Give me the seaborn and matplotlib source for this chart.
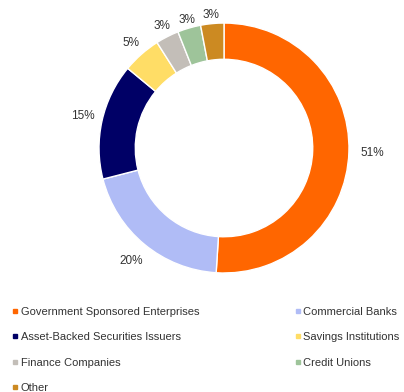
import matplotlib
matplotlib.use("Agg")
import matplotlib.pyplot as plt
from matplotlib.lines import Line2D
import numpy as np
import seaborn as sns

sns.set_theme(style="white")
plt.rcParams["font.family"] = ["Liberation Sans", "DejaVu Sans"]

# Holders of outstanding consumer/mortgage debt, share of total
holders = [
    "Government Sponsored Enterprises",
    "Commercial Banks",
    "Asset-Backed Securities Issuers",
    "Savings Institutions",
    "Finance Companies",
    "Credit Unions",
    "Other",
]
shares = [51, 20, 15, 5, 3, 3, 3]
pct_labels = [f"{v}%" for v in shares]
hex_colors = ["#FF6600", "#B0BCF6", "#000066", "#FFDD66", "#C3BEB8", "#9EC49A", "#CC8A22"]
palette = sns.color_palette(hex_colors)

# radial distance of each percentage label (in units of the outer radius)
label_radius = [1.19, 1.17, 1.16, 1.12, 1.10, 1.07, 1.07]

fig = plt.figure(figsize=(4.04, 3.92), dpi=100)
ax = fig.add_axes([0.1677, 0.2239, 0.7735, 0.797])

wedges, _ = ax.pie(
    shares,
    colors=palette,
    startangle=90,
    counterclock=False,
    wedgeprops=dict(width=0.29, edgecolor="white", linewidth=1.0),
)
for w, lab, r in zip(wedges, pct_labels, label_radius):
    mid = np.deg2rad((w.theta1 + w.theta2) / 2)
    ax.text(r * np.cos(mid), r * np.sin(mid), lab, ha="center", va="center",
            fontsize=8.5, color="#333333")
ax.set_aspect("equal")

# Legend laid out row by row in two columns
order = [0, 2, 4, 6, 1, 3, 5]
handles = [
    Line2D([], [], marker="s", linestyle="none", markersize=2.8,
           markerfacecolor=palette[i], markeredgecolor=palette[i])
    for i in order
]
leg = fig.legend(
    handles,
    [holders[i] for i in order],
    ncol=2,
    loc="upper left",
    bbox_to_anchor=(0.032, 0.217),
    frameon=False,
    fontsize=8,
    handlelength=0.4,
    handletextpad=0.3,
    labelspacing=1.38,
    columnspacing=8.65,
    borderaxespad=0,
    borderpad=0,
)
for t in leg.get_texts():
    t.set_color("#333333")

fig.savefig("out.png", dpi=100, facecolor="white")
